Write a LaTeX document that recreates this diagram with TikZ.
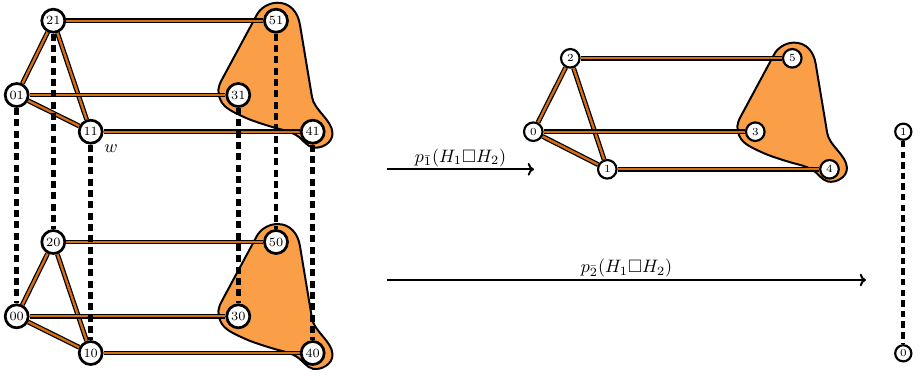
\documentclass[tikz,border=0pt]{standalone}
\usepackage{amssymb}
\usetikzlibrary{arrows.meta}
\definecolor{edgeor}{RGB}{214,110,20}
\definecolor{hullor}{RGB}{250,158,72}
\pgfdeclarelayer{hulllayer}
\pgfdeclarelayer{edgelayer}
\pgfsetlayers{hulllayer,edgelayer,main}
\tikzset{
  big/.style={circle,draw,fill=white,line width=1.5pt,minimum size=12.8pt,inner sep=0pt,font=\scriptsize},
  small/.style={circle,draw,fill=white,line width=1.2pt,minimum size=10.3pt,inner sep=0pt,font=\fontsize{6}{7}\selectfont},
  tinyv/.style={circle,draw,fill=white,line width=1.2pt,minimum size=9pt,inner sep=0pt,font=\fontsize{6}{7}\selectfont},
  pedge/.style={draw=black,line width=0.7pt,double=edgeor,double distance=1.3pt},
  vdash/.style={line width=2.5pt,dash pattern=on 3.9pt off 2.4pt},
  vdashthin/.style={line width=2.1pt,dash pattern=on 3.6pt off 2.3pt},
  hull/.style={fill=hullor,draw=black,line width=1.1pt,line join=round},
  maparrow/.style={line width=1.1pt,-{To[length=3.5pt,width=7pt]}},
  maplabel/.style={above,inner sep=1pt},
  hullshape/.pic={
    \begin{scope}[shift={(-275.7,-82.5)}]
    \draw[hull] (256.7,15) .. controls (260,8.5) and (268,3) .. (277,2.7)
      .. controls (290,2.5) and (298,12) .. (300,25)
      -- (312,97)
      .. controls (314,110) and (332,120) .. (332.5,133)
      .. controls (333,143) and (321,149) .. (313,147.5)
      .. controls (306,146) and (303,139) .. (296,135)
      .. controls (289,131) and (283,130) .. (276.7,128.3)
      .. controls (262,124) and (250,120) .. (243.3,116.7)
      .. controls (233,112) and (224,108) .. (220.5,100)
      .. controls (217,92) and (218,87) .. (221.7,80)
      -- cycle;
    \end{scope}
  }
}
\begin{document}
\begin{tikzpicture}[x=0.5556pt,y=-0.5556pt]
\useasboundingbox (0,0) rectangle (920,376);
% left graph, top layer
\node[big] (n21) at (53.3,20.7) {21};
\node[big] (n51) at (276,20.7) {51};
\node[big] (n01) at (16.7,95) {01};
\node[big] (n31) at (238.3,95) {31};
\node[big] (n11) at (90.7,131.7) {11};
\node[big] (n41) at (312.7,131.7) {41};
\node (wlab) at (111,149) {$w$};
% left graph, bottom layer
\node[big] (n20) at (53.3,242) {20};
\node[big] (n50) at (276,242) {50};
\node[big] (n00) at (16.7,316.3) {00};
\node[big] (n30) at (238.3,316.3) {30};
\node[big] (n10) at (90.7,353) {10};
\node[big] (n40) at (312.7,353) {40};
% middle graph
\node[small] (m2) at (570.3,58.3) {2};
\node[small] (m5) at (792.3,58.3) {5};
\node[small] (m0) at (533.3,131.7) {0};
\node[small] (m3) at (755.3,131.7) {3};
\node[small] (m1) at (607.3,169.3) {1};
\node[small] (m4) at (829.5,169.3) {4};
% right graph
\node[tinyv] (r1) at (903.3,131.7) {1};
\node[tinyv] (r0) at (903.3,353.3) {0};
% arrows
\coordinate (a1s) at (387,169.3);
\coordinate (a1e) at (534,169.3);
\coordinate (a2s) at (387,280);
\coordinate (a2e) at (866,280);
\draw[maparrow] (a1s) -- node[maplabel] {$p_{\bar{1}}(H_1\Box H_2)$} (a1e);
\draw[maparrow] (a2s) -- node[maplabel] {$p_{\bar{2}}(H_1\Box H_2)$} (a2e);
% hulls
\begin{pgfonlayer}{hulllayer}
\pic at (275.7,82.5) {hullshape};
\pic at (275.7,303.8) {hullshape};
\pic[scale=0.96] at (792.4,119.2) {hullshape};
\end{pgfonlayer}
% edges
\begin{pgfonlayer}{edgelayer}
\foreach \a/\b in {n21/n51,n21/n01,n21/n11,n01/n31,n01/n11,n11/n41,
                   n20/n50,n20/n00,n20/n10,n00/n30,n00/n10,n10/n40,
                   m2/m5,m2/m0,m2/m1,m0/m3,m0/m1,m1/m4}
  \draw[pedge] (\a) -- (\b);
\foreach \a/\b in {n21/n20,n01/n00,n11/n10,n31/n30,n51/n50,n41/n40}
  \draw[vdash] (\a) -- (\b);
\draw[vdashthin] (r1) -- (r0);
\end{pgfonlayer}
\end{tikzpicture}
\end{document}
